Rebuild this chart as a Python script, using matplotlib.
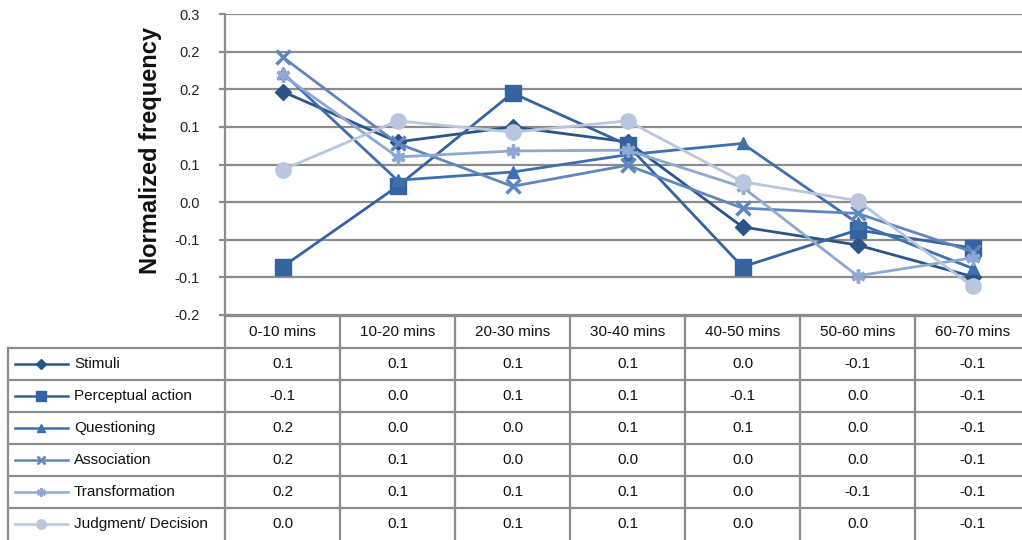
import matplotlib
matplotlib.use("Agg")
import matplotlib.pyplot as plt
from decimal import Decimal, ROUND_HALF_UP

plt.rcParams['font.family'] = ['Liberation Sans', 'DejaVu Sans']

# --- data ---
periods = ['0-10 mins', '10-20 mins', '20-30 mins', '30-40 mins',
           '40-50 mins', '50-60 mins', '60-70 mins']
series_names = ['Stimuli', 'Perceptual action', 'Questioning',
                'Association', 'Transformation', 'Judgment/ Decision']
stimuli = [0.147, 0.080, 0.100, 0.080, -0.033, -0.057, -0.099]
perceptual = [-0.086, 0.021, 0.145, 0.076, -0.086, -0.037, -0.061]
questioning = [0.172, 0.029, 0.040, 0.063, 0.078, -0.028, -0.088]
association = [0.193, 0.078, 0.021, 0.049, -0.008, -0.015, -0.066]
transformation = [0.169, 0.060, 0.068, 0.069, 0.020, -0.098, -0.074]
judgment = [0.043, 0.108, 0.093, 0.108, 0.027, 0.002, -0.112]
y_ticks = [-0.15, -0.10, -0.05, 0.0, 0.05, 0.10, 0.15, 0.20, 0.25]

all_series = [stimuli, perceptual, questioning, association, transformation, judgment]
colors = ['#2B5586', '#3563A0', '#3E6FAE', '#5F86BF', '#8EA8D2', '#BAC6DE']
markers = ['D', 's', '^', 'x', (6, 2, 0), 'o']
msizes = [8, 11, 9, 10, 10, 11]

GRID = '#8c8c8c'
W, H = 1022, 540


def excel_fmt(v):
    # Excel rounds half away from zero and never shows -0.0
    s = str(Decimal(str(round(v, 6))).quantize(Decimal('0.1'), ROUND_HALF_UP))
    return '0.0' if s == '-0.0' else s


fig = plt.figure(figsize=(W / 100, H / 100), dpi=100)
fig.patch.set_facecolor('white')

# main plot
ax = fig.add_axes([225 / W, 1 - 315 / H, 805 / W, 301 / H])
x = list(range(len(periods)))
for vals, c, m, ms in zip(all_series, colors, markers, msizes):
    ax.plot(x, vals, color=c, lw=2, marker=m, markersize=ms,
            markeredgewidth=2.5 if m in ('x', (6, 2, 0)) else 1,
            markeredgecolor=c, markerfacecolor=c, zorder=3)

ax.set_xlim(-0.5, len(periods) - 0.5)
ax.set_ylim(min(y_ticks), max(y_ticks))
ax.set_yticks(y_ticks)
ax.set_yticklabels([excel_fmt(v) for v in y_ticks], fontsize=10.5, color='#222')
ax.set_xticks([])
ax.yaxis.grid(True, color=GRID, lw=1.6)
ax.set_axisbelow(True)
for s in ['top', 'right', 'bottom']:
    ax.spines[s].set_visible(False)
ax.spines['left'].set_color(GRID)
ax.spines['left'].set_linewidth(1.6)
ax.tick_params(axis='y', length=4, color=GRID, width=1.6, pad=14)

fig.text(150 / W, 1 - 151 / H, 'Normalized frequency', rotation=90,
         ha='center', va='center', fontsize=17, fontweight='bold', color='#111')

# data table below the plot
tax = fig.add_axes([225 / W, 0, 805 / W, 224 / H])
tax.set_xlim(-0.5, len(periods) - 0.5)
tax.set_ylim(7, 0)
tax.axis('off')
x_left = (8 - 225) / 115 - 0.5
lk = dict(color=GRID, lw=1.6, clip_on=False)

tax.plot([-0.5, len(periods) - 0.5], [0, 0], **lk)
for r in range(1, 7):
    tax.plot([x_left, len(periods) - 0.5], [r, r], **lk)
for i in range(len(periods)):
    tax.plot([i - 0.5, i - 0.5], [0, 7], **lk)
tax.plot([x_left, x_left], [1, 7], **lk)

for i, p in enumerate(periods):
    tax.text(i, 0.5, p, ha='center', va='center', fontsize=11, color='#111')

for r, (name, vals, c, m, ms) in enumerate(zip(series_names, all_series, colors, markers, msizes)):
    yy = r + 1.5
    for i, v in enumerate(vals):
        tax.text(i, yy, excel_fmt(v), ha='center', va='center', fontsize=11, color='#111')
    lx0, lx1, lm = (15 - 225) / 115 - 0.5, (68 - 225) / 115 - 0.5, (41 - 225) / 115 - 0.5
    tax.plot([lx0, lx1], [yy, yy], color=c, lw=1.8, clip_on=False)
    tax.plot([lm], [yy], marker=m, color=c, markersize=ms * 0.62,
             markeredgewidth=1.8 if m in ('x', (6, 2, 0)) else 1, clip_on=False)
    tax.text((74 - 225) / 115 - 0.5, yy, name, ha='left', va='center',
             fontsize=11, color='#111')

fig.savefig('out.png', dpi=100, facecolor='white')
